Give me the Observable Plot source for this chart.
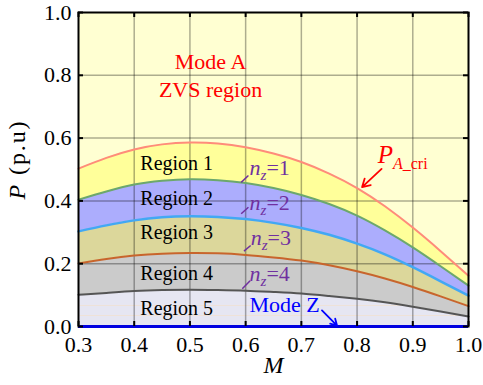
<!DOCTYPE html>
<html>
<head>
<meta charset="utf-8">
<script src="https://cdn.jsdelivr.net/npm/d3@7"></script>
<script src="https://cdn.jsdelivr.net/npm/@observablehq/plot@0.6"></script>
<style>
  html, body { margin: 0; padding: 0; background: #fff; }
  #chart svg { display: block; }
  #chart text { font-family: "Liberation Serif", serif; }
</style>
</head>
<body>
<div id="chart"></div>
<script>
// ---- data ----
const M      = [0.30, 0.35, 0.40, 0.45, 0.50, 0.55, 0.60, 0.65, 0.70, 0.75, 0.80, 0.85, 0.90, 0.95, 1.00];
const pACri  = [0.503, 0.537, 0.564, 0.580, 0.586, 0.583, 0.571, 0.551, 0.524, 0.487, 0.441, 0.383, 0.315, 0.240, 0.162];
const pNz1   = [0.404, 0.430, 0.452, 0.464, 0.469, 0.466, 0.457, 0.441, 0.419, 0.390, 0.353, 0.306, 0.252, 0.192, 0.130];
const pNz2   = [0.303, 0.322, 0.338, 0.348, 0.351, 0.349, 0.342, 0.330, 0.314, 0.292, 0.264, 0.230, 0.189, 0.144, 0.098];
const pNz3   = [0.201, 0.215, 0.226, 0.232, 0.234, 0.233, 0.228, 0.220, 0.210, 0.195, 0.176, 0.153, 0.126, 0.096, 0.065];
const pNz4   = [0.101, 0.107, 0.113, 0.116, 0.117, 0.116, 0.114, 0.110, 0.105, 0.097, 0.088, 0.077, 0.063, 0.048, 0.032];

const xTicks = [0.3, 0.4, 0.5, 0.6, 0.7, 0.8, 0.9, 1.0];
const yTicks = [0.0, 0.2, 0.4, 0.6, 0.8, 1.0];
const xGrid  = [0.4, 0.5, 0.6, 0.7, 0.8, 0.9];
const yGrid  = [0.2, 0.4, 0.6, 0.8];
const stripes = [0.035, 0.067];

// annotation texts and anchors
const modeALines = ["Mode A", "ZVS region"];
const modeAX = [0.537, 0.537];
const modeAY = [0.841, 0.753];

const regionNames = ["Region 1", "Region 2", "Region 3", "Region 4", "Region 5"];
const regionX = [0.411, 0.411, 0.411, 0.411, 0.411];
const regionY = [0.519, 0.408, 0.299, 0.169, 0.057];

const nzValues = ["=1", "=2", "=3", "=4"];
const nzX = [0.607, 0.607, 0.609, 0.607];
const nzY = [0.505, 0.393, 0.282, 0.166];
const nzLeadX1 = [0.592, 0.592, 0.597, 0.594];
const nzLeadY1 = [0.459, 0.359, 0.240, 0.120];
const nzLeadX2 = [0.605, 0.605, 0.609, 0.608];
const nzLeadY2 = [0.481, 0.380, 0.258, 0.146];

const criLabel = ["A"];
const criX = [0.837];
const criY = [0.545];
const criArrow = {x1: [0.844], y1: [0.502], x2: [0.809], y2: [0.444]};

const modeZLabel = ["Mode Z"];
const modeZX = [0.607];
const modeZY = [0.070];
const modeZArrow = {x1: [0.737], y1: [0.051], x2: [0.764], y2: [0.003]};

const xTitle = "M";
const yTitle = "(p.u)";
const yTitleAt = [0.529];

// ---- table ----
const rows = M.map((m, i) => ({M: m, cri: pACri[i], n1: pNz1[i], n2: pNz2[i], n3: pNz3[i], n4: pNz4[i]}));
const idx = a => a.map((_, i) => i);

const serif = "Liberation Serif";
const curve = "natural";
const fmt = d3.format(".1f");

const chart = Plot.plot({
  width: 483,
  height: 385,
  marginTop: 12,
  marginRight: 15,
  marginBottom: 59,
  marginLeft: 78,
  style: {fontFamily: serif, fontSize: "21px", background: "#fff", overflow: "visible"},
  x: {domain: [0.3, 1.0], axis: null},
  y: {domain: [0, 1.0], axis: null},
  marks: [
    Plot.frame({fill: "#ffffd2"}),
    Plot.areaY(rows, {x: "M", y1: 0, y2: "n4", fill: "#e6e6f2", curve}),
    Plot.ruleY(stripes, {stroke: "#efe2d8", strokeWidth: 1}),
    Plot.areaY(rows, {x: "M", y1: "n4", y2: "n3", fill: "#cbcbcb", curve}),
    Plot.areaY(rows, {x: "M", y1: "n3", y2: "n2", fill: "#dcd79b", curve}),
    Plot.areaY(rows, {x: "M", y1: "n2", y2: "n1", fill: "#acadfd", curve}),
    Plot.areaY(rows, {x: "M", y1: "n1", y2: "cri", fill: "#ffff9a", curve}),
    Plot.ruleX(xGrid, {stroke: "#000", strokeOpacity: 0.32, strokeWidth: 1.5}),
    Plot.ruleY(yGrid, {stroke: "#000", strokeOpacity: 0.32, strokeWidth: 1.5}),
    Plot.lineY(rows, {x: "M", y: "n4", stroke: "#555555", strokeWidth: 2, curve}),
    Plot.lineY(rows, {x: "M", y: "n3", stroke: "#c8652c", strokeWidth: 2, curve}),
    Plot.lineY(rows, {x: "M", y: "n2", stroke: "#42a8f4", strokeWidth: 2.5, curve}),
    Plot.lineY(rows, {x: "M", y: "n1", stroke: "#6ca86c", strokeWidth: 2, curve}),
    Plot.lineY(rows, {x: "M", y: "cri", stroke: "#ff8c7a", strokeWidth: 2, curve}),
    Plot.frame({stroke: "#000", strokeWidth: 2}),
    Plot.ruleY([0], {stroke: "#0000e0", strokeWidth: 3}),
    // inward ticks on all four sides
    Plot.tickX(xTicks, {x: d => d, insetTop: 309, stroke: "#000", strokeWidth: 2}),
    Plot.tickX(xTicks, {x: d => d, insetBottom: 309, stroke: "#000", strokeWidth: 2}),
    Plot.tickY(yTicks, {y: d => d, insetRight: 385, stroke: "#000", strokeWidth: 2}),
    Plot.tickY(yTicks, {y: d => d, insetLeft: 385, stroke: "#000", strokeWidth: 2}),
    // tick labels
    Plot.text(xTicks, {x: d => d, frameAnchor: "bottom", dy: 18, text: d => fmt(d), fontSize: 22, fill: "#000", fontFamily: serif, textAnchor: "middle", lineAnchor: "middle"}),
    Plot.text(yTicks, {y: d => d, frameAnchor: "left", dx: -7, text: d => fmt(d), fontSize: 22, fill: "#000", fontFamily: serif, textAnchor: "end", lineAnchor: "middle"}),
    // annotations
    Plot.text(modeALines, {x: (d, i) => modeAX[i], y: (d, i) => modeAY[i], text: d => d, fill: "#ff0000", fontSize: 22, fontFamily: serif}),
    Plot.text(regionNames, {x: (d, i) => regionX[i], y: (d, i) => regionY[i], text: d => d, fill: "#000", fontSize: 20, textAnchor: "start", fontFamily: serif}),
    Plot.link(idx(nzValues), {x1: i => nzLeadX1[i], y1: i => nzLeadY1[i], x2: i => nzLeadX2[i], y2: i => nzLeadY2[i], stroke: "#7030a0", strokeWidth: 1.5}),
    Plot.text(nzValues, {x: (d, i) => nzX[i], y: (d, i) => nzY[i], text: d => d, fill: "#7030a0", fontSize: 22, textAnchor: "start", fontFamily: serif}),
    Plot.arrow(idx(criX), {x1: i => criArrow.x1[i], y1: i => criArrow.y1[i], x2: i => criArrow.x2[i], y2: i => criArrow.y2[i], stroke: "#ff0000", strokeWidth: 1.8, headLength: 9}),
    Plot.text(criLabel, {x: (d, i) => criX[i], y: (d, i) => criY[i], text: d => d, fill: "#ff0000", fontSize: 25, textAnchor: "start", fontFamily: serif}),
    Plot.arrow(idx(modeZX), {x1: i => modeZArrow.x1[i], y1: i => modeZArrow.y1[i], x2: i => modeZArrow.x2[i], y2: i => modeZArrow.y2[i], stroke: "#0000ff", strokeWidth: 1.8, headLength: 9}),
    Plot.text(modeZLabel, {x: (d, i) => modeZX[i], y: (d, i) => modeZY[i], text: d => d, fill: "#0000ff", fontSize: 22, textAnchor: "start", fontFamily: serif}),
    // axis titles
    Plot.text([xTitle], {frameAnchor: "bottom", dy: 46, text: d => d, fontStyle: "italic", fontSize: 24, fill: "#000", fontFamily: serif, textAnchor: "middle"}),
    Plot.text([yTitle], {frameAnchor: "left", y: () => yTitleAt[0], dx: -61, rotate: -90, text: d => d, fontSize: 24, fill: "#000", fontFamily: serif, textAnchor: "middle", lineAnchor: "middle"})
  ]
});

document.getElementById("chart").appendChild(chart);

// rich text: subscripts and italics
const root = d3.select(document.getElementById("chart"));
root.selectAll("text").attr("font-family", "Liberation Serif, serif");
const byText = s => root.selectAll("text").filter(function () { return this.textContent === s; });
nzValues.forEach(v => {
  byText(v).each(function () {
    const s = d3.select(this).text("");
    s.append("tspan").attr("font-style", "italic").text("n");
    s.append("tspan").attr("font-style", "italic").attr("font-size", "15px").attr("dy", "5").text("z");
    s.append("tspan").attr("dy", "-5").text(v);
  });
});
criLabel.forEach(v => {
  byText(v).each(function () {
    const s = d3.select(this).text("");
    s.append("tspan").attr("font-style", "italic").text("P");
    s.append("tspan").attr("font-style", "italic").attr("font-size", "16px").attr("dy", "6").text(v);
    s.append("tspan").attr("font-size", "16px").text("_cri");
  });
});
byText(yTitle).each(function () {
  const s = d3.select(this).text("");
  s.append("tspan").attr("font-style", "italic").text("P");
  s.append("tspan").text(" " + yTitle);
  s.attr("textLength", 78).attr("lengthAdjust", "spacing");
});
</script>
</body>
</html>
